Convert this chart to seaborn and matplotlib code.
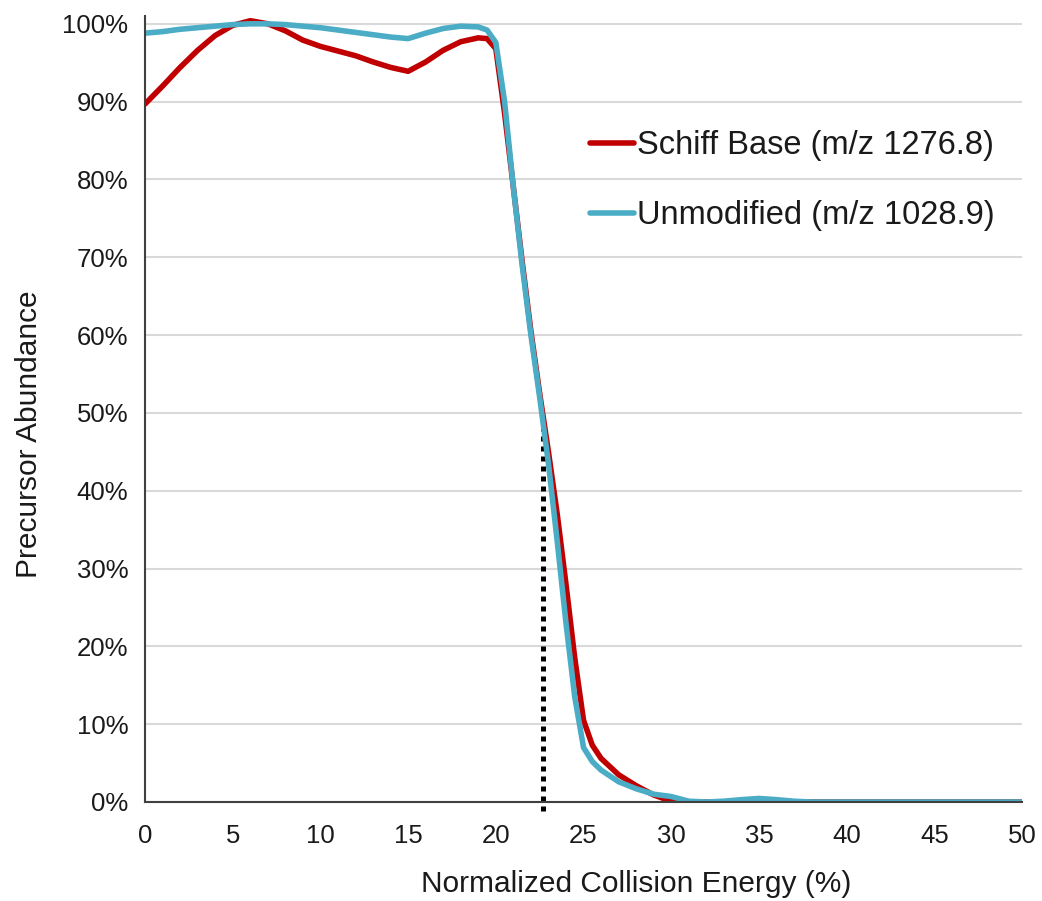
import numpy as np
import pandas as pd
import matplotlib
matplotlib.use("Agg")
import matplotlib.pyplot as plt
from matplotlib.ticker import PercentFormatter
from matplotlib.lines import Line2D
import seaborn as sns

# values (x = NCE %, y = precursor abundance %)
energy = [0, 1, 2, 3, 4, 5, 6, 7, 8, 9, 10, 11, 12, 13, 14, 15, 16, 17, 18, 19, 19.5, 20,
          20.5, 21, 21.5, 22, 22.5, 23, 23.5, 24, 24.5, 25, 25.5,
          26, 27, 28, 29, 30, 31, 32, 33, 34, 35, 36, 37, 38, 40, 45, 50]
schiff = [89.7, 92.0, 94.4, 96.6, 98.5, 99.8, 100.4, 100.0, 99.1, 97.9, 97.1, 96.5, 95.9, 95.1, 94.4, 93.9,
          95.1, 96.6, 97.7, 98.2, 98.1, 96.8,
          88.5, 79.0, 69.5, 60.5, 52.5, 45.0, 37.0, 28.0, 18.5, 10.5, 7.3,
          5.6, 3.5, 2.1, 0.9, 0.1, 0.0, 0.0, 0.0, 0.0, 0.0, 0.0, 0.0, 0.0, 0.0, 0.0, 0.0]
unmodified = [98.8, 99.0, 99.3, 99.5, 99.7, 99.9, 100.0, 100.0, 99.9, 99.7, 99.5, 99.2, 98.9, 98.6, 98.3, 98.1,
              98.8, 99.4, 99.7, 99.6, 99.2, 97.6,
              90.0, 79.0, 69.0, 60.0, 52.0, 43.5, 33.5, 23.0, 13.5, 7.0, 5.2,
              4.1, 2.6, 1.7, 1.0, 0.7, 0.1, 0.0, 0.1, 0.3, 0.45, 0.3, 0.1, 0.0, 0.0, 0.0, 0.0]
labels = ["Schiff Base (m/z 1276.8)", "Unmodified (m/z 1028.9)"]
colors = ["#C00000", "#4BACC6"]
half_point = 22.7  # dotted marker at 50% abundance

df = pd.concat([
    pd.DataFrame({"energy": energy, "abundance": schiff, "series": labels[0]}),
    pd.DataFrame({"energy": energy, "abundance": unmodified, "series": labels[1]}),
])

sns.set_style("white")
plt.rcParams["font.family"] = ["Liberation Sans", "DejaVu Sans"]

fig = plt.figure(figsize=(10.42, 9.01), dpi=100)
ax = fig.add_axes([0.1392, 0.1099, 0.8416, 0.8723])

# gridlines first so curves sit on top
ax.yaxis.grid(True, color="#D9D9D9", linewidth=1.5)
ax.set_axisbelow(True)

sns.lineplot(data=df, x="energy", y="abundance", hue="series", palette=colors,
             estimator=None, linewidth=4, legend=False, ax=ax,
             solid_joinstyle="round", solid_capstyle="round")

ax.plot([half_point, half_point], [-1.2, 50], color="black", linewidth=3.6,
        linestyle=(0, (1, 1)), clip_on=False, zorder=1)

ax.set_xlim(0, 50)
ax.set_ylim(0, 101)
ax.set_xticks(range(0, 51, 5))
ax.set_yticks(range(0, 101, 10))
ax.yaxis.set_major_formatter(PercentFormatter(decimals=0))

for s in ["top", "right"]:
    ax.spines[s].set_visible(False)
for s in ["left", "bottom"]:
    ax.spines[s].set_color("#404040")
    ax.spines[s].set_linewidth(1.5)
ax.tick_params(axis="both", direction="out", length=7, width=1.5, color="#404040",
               labelsize=18.5, labelcolor="#1a1a1a")
ax.tick_params(axis="x", pad=9)
ax.tick_params(axis="y", pad=5)

ax.set_xlabel("Normalized Collision Energy (%)", fontsize=21.5, color="#1a1a1a")
ax.set_ylabel("Precursor Abundance", fontsize=21.5, color="#1a1a1a")
ax.xaxis.set_label_coords(0.56, -0.087)
ax.yaxis.set_label_coords(-0.116, 0.468)

handles = [Line2D([], [], color=c, linewidth=4) for c in colors]
fig.legend(handles, labels, loc="upper left", bbox_to_anchor=(590 / 1042, 1 - 130 / 901),
           frameon=False, fontsize=23.5, handlelength=1.35, handletextpad=0.1,
           labelspacing=1.2, borderpad=0, borderaxespad=0, labelcolor="#1a1a1a")

fig.savefig("out.png", dpi=100)
